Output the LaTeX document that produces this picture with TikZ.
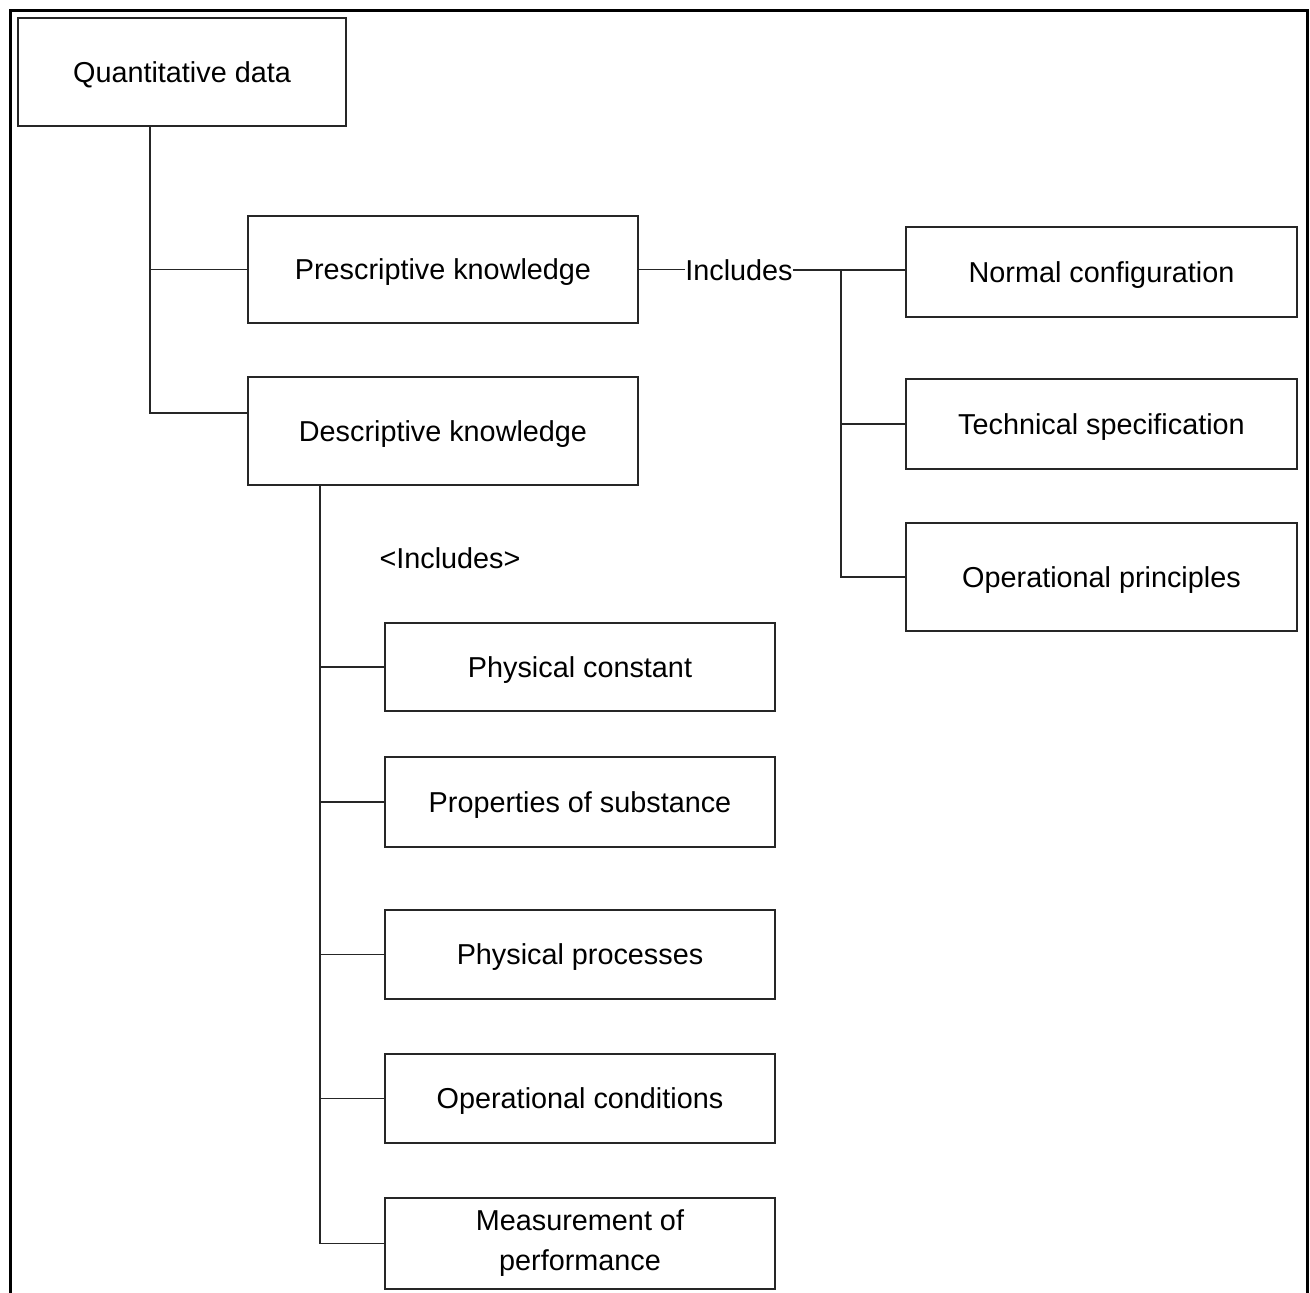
\documentclass[tikz,border=0pt]{standalone}
\usepackage{fontspec}
\setmainfont{Liberation Sans}
\begin{document}
\begin{tikzpicture}[x=1pt,y=-1pt,
  box/.style={draw=black!85, line width=1.5pt, inner sep=0pt, align=center,
    font=\fontsize{28.8}{40}\selectfont},
  onebox/.style={box, text depth=0pt},
  lbl/.style={inner sep=0pt, font=\fontsize{28.8}{40}\selectfont},
  link/.style={draw=black!85, line width=1.5pt}]
\useasboundingbox (0,0) rectangle (1310,1293);
% outer frame, open at the bottom
\draw[line width=3pt, line cap=rect] (10,1293) -- (10,10) -- (1307,10) -- (1307,1293);

% top level
\node[onebox, minimum width=328pt, minimum height=108pt] (quant) at (182,72) {Quantitative data};
\node[onebox, minimum width=390pt, minimum height=107pt] (pres) at (443,269.5) {Prescriptive knowledge};
\node[onebox, minimum width=390pt, minimum height=108pt] (desc) at (443,431) {Descriptive knowledge};

% prescriptive branch
\node[onebox, minimum width=391pt, minimum height=90pt] (normal) at (1101.5,272) {Normal configuration};
\node[onebox, minimum width=391pt, minimum height=90pt] (tech) at (1101.5,424) {Technical specification};
\node[onebox, minimum width=391pt, minimum height=108pt] (oper) at (1101.5,577) {Operational principles};
\node[lbl] (inc) at (739,270) {Includes};

% descriptive branch
\node[lbl] (dinc) at (450,558) {<Includes>};
\node[onebox, minimum width=390pt, minimum height=88pt] (phc) at (580,667) {Physical constant};
\node[onebox, minimum width=390pt, minimum height=90pt] (prop) at (580,802) {Properties of substance};
\node[onebox, minimum width=390pt, minimum height=89pt] (php) at (580,954.5) {Physical processes};
\node[onebox, minimum width=390pt, minimum height=89pt] (opc) at (580,1098.5) {Operational conditions};
\node[box, minimum width=390pt, minimum height=91pt] (meas) at (580,1243.5) {Measurement of\\performance};

% trunk from quantitative data
\coordinate (t1) at (150,413);
\draw[link] (quant.south -| t1) -- (t1) -- (desc.west |- t1);
\draw[link] (pres.west) -- (pres.west -| t1);

% prescriptive knowledge includes
\coordinate (t2) at (841,577);
\draw[link] (pres.east) -- (pres.east -| inc.west);
\draw[link] (inc.east) -- (inc.east -| normal.west);
\draw[link] (inc.east -| t2) -- (t2) -- (oper.west);
\draw[link] (tech.west) -- (tech.west -| t2);

% descriptive knowledge includes
\coordinate (t3) at (320,1243.5);
\draw[link] (desc.south -| t3) -- (t3) -- (meas.west);
\draw[link] (phc.west) -- (phc.west -| t3);
\draw[link] (prop.west) -- (prop.west -| t3);
\draw[link] (php.west) -- (php.west -| t3);
\draw[link] (opc.west) -- (opc.west -| t3);
\end{tikzpicture}
\end{document}
